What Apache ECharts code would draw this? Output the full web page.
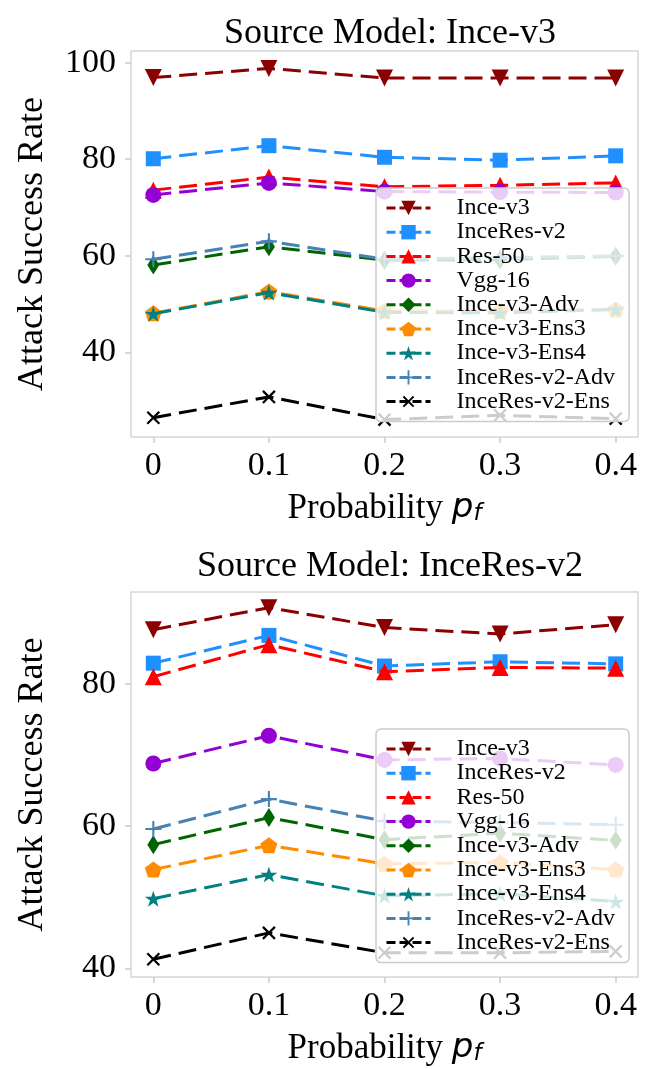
<!DOCTYPE html>
<html>
<head>
<meta charset="utf-8">
<script src="https://cdn.jsdelivr.net/npm/echarts@6/dist/echarts.min.js"></script>
<style>html,body{margin:0;padding:0;background:#fff}#c{width:649px;height:1069px}</style>
</head>
<body>
<div id="c"></div>
<script>
// ---- data ----
const xValues = [0, 0.1, 0.2, 0.3, 0.4];
const xTickLabels = [0, 0.1, 0.2, 0.3, 0.4];
const yTicksTop = [40, 60, 80, 100];
const yTicksBottom = [40, 60, 80];
const seriesNames = ['Ince-v3', 'InceRes-v2', 'Res-50', 'Vgg-16', 'Ince-v3-Adv', 'Ince-v3-Ens3', 'Ince-v3-Ens4', 'InceRes-v2-Adv', 'InceRes-v2-Ens'];
const chartTitles = ['Source Model: Ince-v3', 'Source Model: InceRes-v2'];

// Source model: Ince-v3
const topInceV3       = [96.9, 98.8, 96.8, 96.8, 96.8];
const topInceResV2    = [80.1, 82.8, 80.4, 79.8, 80.7];
const topRes50        = [73.6, 76.3, 74.3, 74.6, 75.1];
const topVgg16        = [72.6, 75.1, 73.3, 73.2, 73.1];
const topInceV3Adv    = [58.1, 61.9, 59.1, 59.2, 59.9];
const topInceV3Ens3   = [48.1, 52.6, 48.6, 48.6, 48.9];
const topInceV3Ens4   = [48.0, 52.4, 48.3, 48.2, 48.9];
const topInceResV2Adv = [59.3, 63.0, 59.3, 59.6, 60.0];
const topInceResV2Ens = [26.5, 30.8, 26.1, 27.0, 26.3];

// Source model: InceRes-v2
const botInceV3       = [87.6, 90.7, 87.9, 87.0, 88.3];
const botInceResV2    = [82.9, 86.8, 82.5, 83.1, 82.8];
const botRes50        = [81.0, 85.5, 81.7, 82.3, 82.2];
const botVgg16        = [68.8, 72.7, 69.3, 69.5, 68.6];
const botInceV3Adv    = [57.4, 61.2, 58.1, 59.0, 58.0];
const botInceV3Ens3   = [53.9, 57.3, 54.7, 54.9, 53.9];
const botInceV3Ens4   = [49.8, 53.2, 50.2, 50.5, 49.4];
const botInceResV2Adv = [59.6, 63.8, 60.7, 60.5, 60.2];
const botInceResV2Ens = [41.3, 45.0, 42.2, 42.2, 42.4];

const topData = [topInceV3, topInceResV2, topRes50, topVgg16, topInceV3Adv, topInceV3Ens3, topInceV3Ens4, topInceResV2Adv, topInceResV2Ens];
const botData = [botInceV3, botInceResV2, botRes50, botVgg16, botInceV3Adv, botInceV3Ens3, botInceV3Ens4, botInceResV2Adv, botInceResV2Ens];

// ---- styles ----
const PENTAGON = 'path://M0,-1L0.951,-0.309L0.588,0.809L-0.588,0.809L-0.951,-0.309Z';
const STAR = 'path://M0,-1L0.2245,-0.309L0.951,-0.309L0.363,0.118L0.588,0.809L0,0.382L-0.588,0.809L-0.363,0.118L-0.951,-0.309L-0.2245,-0.309Z';
const PLUS = 'path://M-1,-0.13L-0.13,-0.13L-0.13,-1L0.13,-1L0.13,-0.13L1,-0.13L1,0.13L0.13,0.13L0.13,1L-0.13,1L-0.13,0.13L-1,0.13Z';
const styles = [
  {color: '#8B0000', symbol: 'triangle', size: 17, rotate: 180},
  {color: '#1E90FF', symbol: 'rect', size: 15, rotate: 0},
  {color: '#FF0000', symbol: 'triangle', size: 17, rotate: 0},
  {color: '#9400D3', symbol: 'circle', size: 16, rotate: 0},
  {color: '#006400', symbol: 'diamond', size: [12, 19], rotate: 0},
  {color: '#FF8C00', symbol: PENTAGON, size: [17, 16], rotate: 0},
  {color: '#008080', symbol: STAR, size: [17, 16], rotate: 0},
  {color: '#4682B4', symbol: PLUS, size: 16, rotate: 0},
  {color: '#000000', symbol: PLUS, size: 17, rotate: 45}
];

const SERIF = 'Liberation Serif';
const plots = [
  {top: 51, height: 386, min: 22.5, max: 102.4, ticks: yTicksTop, data: topData, titleTop: 11, legendTop: 188},
  {top: 592, height: 385, min: 38.8, max: 92.9, ticks: yTicksBottom, data: botData, titleTop: 544, legendTop: 729}
];

const option = {
  backgroundColor: '#fff',
  animation: false,
  title: [], grid: [], xAxis: [], yAxis: [], legend: [], series: []
};

plots.forEach((p, k) => {
  option.title.push({
    text: chartTitles[k], left: 385, top: p.titleTop, textAlign: 'center',
    textStyle: {fontFamily: SERIF, fontSize: 36, fontWeight: 'normal', color: '#000'}
  });
  option.grid.push({
    left: 131, right: 11, top: p.top, height: p.height,
    show: true, borderColor: '#d6d6d6', borderWidth: 1.5, backgroundColor: 'transparent'
  });
  option.xAxis.push({
    type: 'value', gridIndex: k, min: -0.0193, max: 0.4193,
    name: 'Probability {i|p}{s|f}', nameLocation: 'middle', nameGap: 54,
    nameTextStyle: {
      fontFamily: SERIF, fontSize: 35, color: '#000',
      rich: {
        i: {fontFamily: 'DejaVu Sans', fontStyle: 'italic', fontSize: 34, color: '#000'},
        s: {fontFamily: 'DejaVu Sans', fontStyle: 'italic', fontSize: 23, color: '#000', verticalAlign: 'bottom', lineHeight: 22}
      }
    },
    axisLine: {show: false, onZero: false},
    axisTick: {show: true, customValues: xValues, length: 6, lineStyle: {color: '#cccccc', width: 1.5}},
    axisLabel: {customValues: xTickLabels, margin: 12, fontFamily: SERIF, fontSize: 34, color: '#000'},
    splitLine: {show: false}
  });
  option.yAxis.push({
    type: 'value', gridIndex: k, min: p.min, max: p.max,
    name: 'Attack Success Rate', nameLocation: 'middle', nameGap: 80,
    nameTextStyle: {fontFamily: SERIF, fontSize: 36, color: '#000'},
    axisLine: {show: false, onZero: false},
    axisTick: {show: true, customValues: p.ticks, length: 6, lineStyle: {color: '#cccccc', width: 1.5}},
    axisLabel: {customValues: p.ticks, margin: 15, fontFamily: SERIF, fontSize: 34, color: '#000'},
    splitLine: {show: false}
  });
  option.legend.push({
    data: seriesNames, orient: 'vertical', left: 376, top: p.legendTop, z: 10,
    itemWidth: 44, itemHeight: 18, itemGap: 0.2,
    padding: [8, 14, 8, 9],
    backgroundColor: 'rgba(255,255,255,0.8)', borderColor: '#cccccc', borderWidth: 1.5, borderRadius: 5,
    lineStyle: {type: [9, 4], width: 3},
    textStyle: {fontFamily: SERIF, fontSize: 24, color: '#000', padding: [0, 0, 0, 21]},
    selectedMode: false
  });
  seriesNames.forEach((name, i) => {
    const st = styles[i];
    option.series.push({
      type: 'line', name: name, xAxisIndex: k, yAxisIndex: k,
      data: xValues.map((x, j) => [x, p.data[i][j]]),
      symbol: st.symbol, symbolSize: st.size, symbolRotate: st.rotate, showAllSymbol: true,
      itemStyle: {color: st.color, opacity: 1},
      lineStyle: {color: st.color, width: 3, type: [18, 8]},
      z: 2 + i * 0.01
    });
  });
});

const chart = echarts.init(document.getElementById('c'), null, {renderer: 'canvas'});
chart.setOption(option);
</script>
</body>
</html>
